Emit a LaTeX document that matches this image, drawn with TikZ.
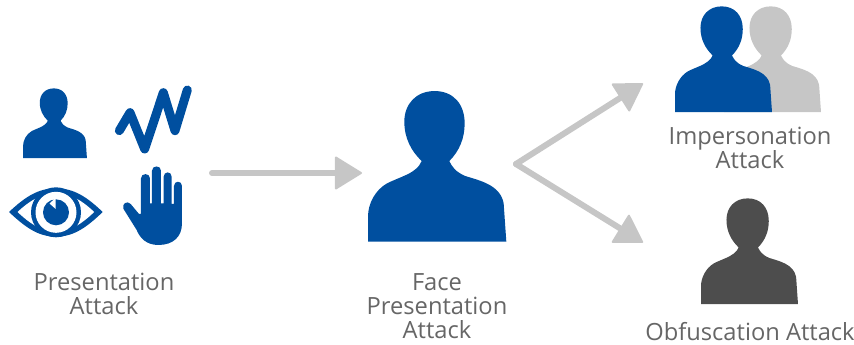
\documentclass[tikz,border=0pt]{standalone}
\usepackage{fontspec}
\setmainfont{Open Sans}
\usetikzlibrary{arrows.meta}
\definecolor{fblue}{HTML}{004F9F}
\definecolor{lgray}{HTML}{C6C6C6}
\definecolor{dgray}{HTML}{4D4D4D}
\definecolor{tgray}{HTML}{666666}
\newcommand{\personshape}[4]{%
 \begin{scope}[shift={(#1,#2)},x=#3pt,y=-#3pt,shift={(-53,-515)}]
 \fill[#4] (53,515) -- (53,440) .. controls (53,400) and (75,360) .. (110,340)
  .. controls (140,325) and (175,315) .. (195,298)
  .. controls (205,290) and (210,282) .. (214,273)
  .. controls (183,243) and (162,205) .. (162,155)
  .. controls (162,102) and (197,63) .. (253,63)
  .. controls (309,63) and (343,102) .. (343,160)
  .. controls (343,205) and (327,243) .. (297,273)
  .. controls (305,290) and (315,305) .. (345,318)
  .. controls (390,332) and (450,345) .. (460,400)
  -- (468,515) -- cycle;
 \end{scope}}
\tikzset{
 label text/.style={text=tgray,font=\fontsize{23.7}{24}\selectfont,align=center,inner sep=0pt},
 gray arrow/.style={draw=lgray,line width=6pt,line cap=round,
   -{Triangle[length=28pt,width=34pt,round,line width=2pt]}},
}
\begin{document}
\begin{tikzpicture}[x=1pt,y=-1pt]
\useasboundingbox (0,0) rectangle (854,345);
% icons
\personshape{23}{158}{0.154}{fblue}
\personshape{368}{241.7}{0.3333}{fblue}
\personshape{724}{112}{0.2337}{lgray}
\personshape{675}{112}{0.2337}{fblue}
\personshape{701}{304}{0.2337}{dgray}
% wave
\begin{scope}[shift={(110,80)},x=.3333pt,y=-.3333pt]
\draw[fblue,line width=9pt,line cap=round,line join=round]
 (28,152) -- (60,98) -- (104,207) -- (160,38) -- (195,152) -- (232,30);
\end{scope}
% eye
\fill[fblue] (9,212) .. controls (25,197) and (38,188.3) .. (56,188.3) .. controls (74,188.3) and (87,197) .. (102.7,212)
 .. controls (87,227) and (74,236.7) .. (56,236.7) .. controls (38,236.7) and (25,227) .. (9,212) -- cycle;
\fill[white] (17.5,212) .. controls (30,200.5) and (41,193.5) .. (56,193.5) .. controls (71,193.5) and (82,200.5) .. (94.2,212)
 .. controls (82,223.5) and (71,231.5) .. (56,231.5) .. controls (41,231.5) and (30,223.5) .. (17.5,212) -- cycle;
\fill[fblue] (56,212.3) circle[radius=25];
\fill[white] (56,212.3) circle[radius=20.5];
\fill[fblue] (56,212.3) circle[radius=13];
\fill[white] (49.5,203.5) -- (55.5,208.8) -- (55.5,198) -- cycle;
% hand
\begin{scope}[shift={(115,160)},x=.3333pt,y=-.3333pt]
\fill[fblue] (25,146) .. controls (20,132) and (36,120) .. (47,132) -- (72,162) -- (78,162) -- (78,55)
 .. controls (78,38) and (105,38) .. (105,55) -- (105,130) -- (111,130) -- (111,32)
 .. controls (111,15) and (138,15) .. (138,32) -- (138,130) -- (146,130) -- (146,50)
 .. controls (146,33) and (170,33) .. (170,50) -- (170,132) -- (177,132) -- (177,78)
 .. controls (177,61) and (201,61) .. (201,78) -- (201,190)
 .. controls (201,230) and (175,255) .. (130,255)
 .. controls (95,255) and (75,235) .. (65,210) -- cycle;
\end{scope}
% connectors
\coordinate (a0) at (212,173);
\coordinate (a1) at (362,173);
\coordinate (fork) at (516,164);
\coordinate (up) at (643,83.5);
\coordinate (down) at (643,242.5);
\draw[gray arrow] (a0) -- (a1);
\draw[gray arrow] (fork) -- (up);
\draw[gray arrow] (fork) -- (down);
% labels
\node[label text] (pa) at (104,294) {Presentation\\Attack};
\node[label text] (fpa) at (437,306) {Face\\Presentation\\Attack};
\node[label text] (ia) at (750,148) {Impersonation\\Attack};
\node[label text] (oa) at (750,332) {Obfuscation Attack};
\end{tikzpicture}
\end{document}
